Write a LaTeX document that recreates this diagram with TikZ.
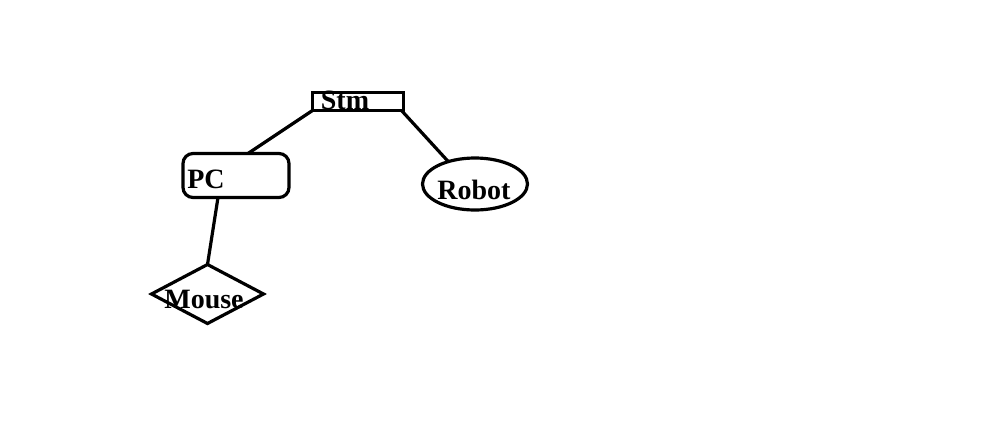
\documentclass[tikz,border=0pt]{standalone}
\usepackage{fontspec}
\setmainfont{Liberation Serif}
\usetikzlibrary{shapes.geometric,calc}
\begin{document}
\begin{tikzpicture}[x=1pt,y=-1pt,
  shapeline/.style={draw=black,line width=3.2pt,inner sep=0pt,outer sep=0pt},
  lbl/.style={font=\bfseries\fontsize{28}{28}\selectfont,inner sep=0pt},
  conn/.style={draw=black,line width=3.2pt}]
\useasboundingbox[fill=white] (0,0) rectangle (999,426);
\node[shapeline,rectangle,minimum width=91pt,minimum height=18pt] (stm) at (358,101.5) {};
\node[shapeline,rectangle,rounded corners=10pt,minimum width=106pt,minimum height=44pt] (pc) at (236,175.5) {};
\node[shapeline,ellipse,minimum width=105pt,minimum height=52pt] (robot) at (475,184) {};
\node[shapeline,diamond,aspect=1.9,minimum width=112pt,minimum height=59pt] (mouse) at (207.5,294) {};
\node[lbl] (stmt) at (345,100) {Stm};
\node[lbl] (pct) at (206,179) {PC};
\node[lbl] (robott) at (474,190) {Robot};
\node[lbl] (mouset) at (204,299) {Mouse};
\draw[conn] (stm.south west) -- ($(pc.north)+(12,0)$);
\draw[conn] ($(stm.south east)+(-2,0)$) -- (robot.140);
\draw[conn] ($(pc.south)+(-18,0)$) -- (mouse.north);
\end{tikzpicture}
\end{document}
